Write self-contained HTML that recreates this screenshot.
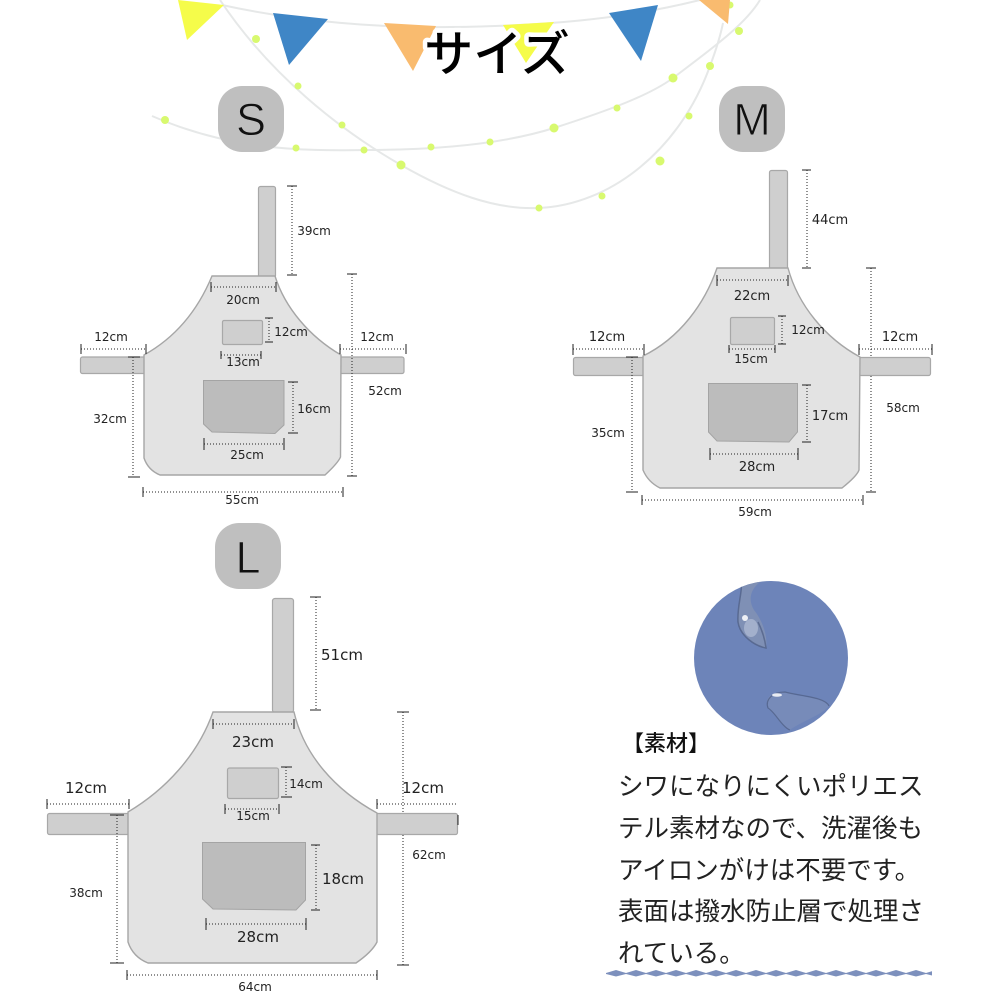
<!DOCTYPE html>
<html lang="ja"><head><meta charset="utf-8"><title>サイズ</title>
<style>
html,body{margin:0;padding:0;background:#fff}
svg{display:block}
.s{fill:none;stroke:#e6e8e8;stroke-width:2}
.d{fill:#d8f96f}
.body{fill:#e3e3e3;stroke:#a6a6a6;stroke-width:1.4}
.st{fill:#cfcfcf;stroke:#a8a8a8;stroke-width:1.2}
.pk{fill:#bcbcbc;stroke:#a4a4a4;stroke-width:1}
.dot{stroke:#222;stroke-width:1;stroke-dasharray:1 2;fill:none;shape-rendering:crispEdges}
.t{stroke:#222;stroke-width:1;fill:none;shape-rendering:crispEdges}
.l{font-family:"DejaVu Sans","Liberation Sans",sans-serif;fill:#222;text-anchor:middle}
.a{font-size:12px}.b{font-size:13px}.c{font-size:15px}
.bd{fill:#bfbfbf}
.bl{font-family:"Liberation Sans",sans-serif;font-size:45px;fill:#111;text-anchor:middle;stroke:#bfbfbf;stroke-width:.9}
.j{font-family:"Liberation Sans","Noto Sans CJK JP",sans-serif;fill:#222;font-size:25.5px;font-weight:400}
</style></head><body>
<svg width="1000" height="1000" viewBox="0 0 1000 1000" xmlns="http://www.w3.org/2000/svg">
<defs>
<pattern id="wv" x="606" y="969" width="20" height="9" patternUnits="userSpaceOnUse"><polygon points="0,4 10,1 20,4 20,5 10,7.500 0,5" fill="#7d90bd"/></pattern>
<clipPath id="cc"><circle cx="771" cy="658" r="77"/></clipPath>
</defs>
<rect width="1000" height="1000" fill="#fff"/>

<!-- garland -->
<path class="s" d="M222 5C300 22 380 28 450 27C540 26 620 20 700 0"/>
<path class="s" d="M220 0C270 75 340 130 401 165C450 193 495 210 539 208C610 205 680 150 710 66C716 50 720 38 723 23"/>
<path class="s" d="M152 116C230 150 300 151 364 150C430 150 500 145 554 128C610 110 650 95 673 78C710 50 745 25 760 0"/>
<g class="d">
<ellipse cx="256" cy="39" rx="4" ry="4"/><circle cx="298" cy="86" r="3.5"/><circle cx="342" cy="125" r="3.5"/><circle cx="401" cy="165" r="4.5"/><circle cx="539" cy="208" r="3.5"/><circle cx="602" cy="196" r="3.5"/><circle cx="660" cy="161" r="4.5"/><circle cx="689" cy="116" r="3.5"/><circle cx="710" cy="66" r="4"/>
<circle cx="165" cy="120" r="4"/><circle cx="296" cy="148" r="3.5"/><circle cx="364" cy="150" r="3.5"/><circle cx="431" cy="147" r="3.5"/><circle cx="490" cy="142" r="3.5"/><circle cx="554" cy="128" r="4.5"/><circle cx="617" cy="108" r="3.5"/><circle cx="673" cy="78" r="4.5"/><circle cx="739" cy="31" r="4"/><circle cx="730" cy="5" r="3.5"/>
</g>
<polygon points="178,0 224,5 187,40" fill="#f5fc4a"/>
<polygon points="273,13 328,19 289,65" fill="#3f86c6"/>
<polygon points="384,23 436,26 413,71" fill="#f9bb6f"/>
<polygon points="503,25 554,22 526,63" fill="#f5fc4a"/>
<polygon points="609,13 658,5 641,61" fill="#3f86c6"/>
<polygon points="699,0 730,0 728,24" fill="#f9bb6f"/>
<text x="497" y="71" text-anchor="middle" font-size="49" font-weight="500" font-family="&quot;Liberation Sans&quot;,&quot;Noto Sans CJK JP&quot;,sans-serif" fill="#000" stroke="#fff" stroke-width="9" paint-order="stroke" stroke-linejoin="round">サイズ</text>

<!-- badges -->
<rect class="bd" x="218" y="86" width="66" height="66" rx="24"/><text class="bl" x="251" y="135">S</text>
<rect class="bd" x="719" y="86" width="66" height="66" rx="24"/><text class="bl" x="752" y="135">M</text>
<rect class="bd" x="215" y="523" width="66" height="66" rx="24"/><text class="bl" x="248" y="573">L</text>

<!-- S -->
<rect class="st" x="258.500" y="186.500" width="17" height="91" rx="2"/>
<rect class="st" x="80.500" y="357" width="66" height="16.500" rx="2"/>
<rect class="st" x="339" y="357" width="65" height="16.500" rx="2"/>
<path class="body" d="M212 276H275C285 308 310 337 341 355L340.500 457Q338 463 325 475H160Q148 470 144 458V355C180 335 200 305 212 276Z"/>
<rect class="st" x="222.500" y="320.500" width="40" height="24" rx="1.500"/>
<path class="pk" d="M203.500 380.500H284V425L275 433.500L212 432L203.500 424Z"/>
<path class="dot" d="M292 186V275M211 287H276M269 318V342M221 355H261M81 349H146M340 349H406M352 274V476M133 357V477M293 382V433M204 444H284M143 492H343"/>
<path class="t" d="M287 186H297M287 275H297M211 282V292M276 282V292M265 318H273M265 342H273M221 351V359M261 351V359M81 344V354M146 344V354M340 344V354M406 344V354M347 274H357M347 476H357M128 357H140M128 477H140M288 382H298M288 433H298M204 438V450M284 438V450M143 487V497M343 487V497"/>
<g class="l a">
<text x="314" y="235">39cm</text><text x="243" y="304">20cm</text><text x="291" y="336">12cm</text><text x="243" y="366">13cm</text><text x="111" y="341">12cm</text><text x="377" y="341">12cm</text><text x="385" y="395">52cm</text><text x="110" y="423">32cm</text><text x="314" y="413">16cm</text><text x="247" y="459">25cm</text><text x="242" y="504">55cm</text>
</g>

<!-- M -->
<rect class="st" x="769.500" y="170.500" width="18" height="99" rx="2"/>
<rect class="st" x="573.500" y="357.500" width="71" height="18" rx="2"/>
<rect class="st" x="859" y="357.500" width="71.500" height="18" rx="2"/>
<path class="body" d="M717 268H788C798 305 825 338 860 357L859 470Q857 476 842 488H660Q648 482 643 470V356C680 338 705 303 717 268Z"/>
<rect class="st" x="730.500" y="317.500" width="44" height="27" rx="1.500"/>
<path class="pk" d="M708.500 383.500H797.500V432L789 442L717 441L708.500 432Z"/>
<path class="dot" d="M807 170V268M717 280H788M782 316V344M729 349H775M573 349H644M859 349H932M871 268V357M871 376V492M632 357V492M807 385V442M710 454H798M642 500H863"/>
<path class="t" d="M802 170H811M802 268H811M717 275V286M788 275V286M778 316H786M778 344H786M729 345V353M775 345V353M573 344V355M644 344V355M859 344V355M932 344V355M866 268H876M866 492H876M626 357H638M626 492H638M802 385H811M802 442H811M710 448V460M798 448V460M642 495V505M863 495V505"/>
<g class="l a"><text x="808" y="334">12cm</text><text x="751" y="363">15cm</text><text x="903" y="412">58cm</text><text x="608" y="437">35cm</text><text x="755" y="516">59cm</text></g>
<g class="l b"><text x="830" y="224">44cm</text><text x="752" y="300">22cm</text><text x="607" y="341">12cm</text><text x="900" y="341">12cm</text><text x="830" y="420">17cm</text><text x="757" y="471">28cm</text></g>

<!-- L -->
<rect class="st" x="272.500" y="598.500" width="21" height="114" rx="2.500"/>
<rect class="st" x="47.500" y="813.500" width="82" height="21" rx="2"/>
<rect class="st" x="376" y="813.500" width="81.500" height="21" rx="2"/>
<path class="body" d="M213 712H294C304 755 335 790 377 813L377 942Q372 952 356 963H148Q133 957 128 942V812C165 790 198 755 213 712Z"/>
<rect class="st" x="227.500" y="768" width="51" height="30.500" rx="2"/>
<path class="pk" d="M202.500 842.500H305.500V900L296 910L213 909L202.500 899Z"/>
<path class="dot" d="M316 597V710M213 724H294M286 767V797M225 809H279M47 804H129M377 804H458M403 712V813M403 835V965M117 815V963M316 845V910M206 924H306M127 975H377"/>
<path class="t" d="M310 597H321M310 710H321M213 719V729M294 719V729M281 767H292M281 797H292M225 804V814M279 804V814M47 799V809M129 799V809M377 799V809M458 815V825M397 712H409M397 965H409M110 815H124M110 963H124M311 845H320M311 910H320M206 918V930M306 918V930M127 970V980M377 970V980"/>
<g class="l a"><text x="306" y="788">14cm</text><text x="253" y="820">15cm</text><text x="429" y="859">62cm</text><text x="86" y="897">38cm</text><text x="255" y="991">64cm</text></g>
<g class="l c"><text x="342" y="660">51cm</text><text x="253" y="747">23cm</text><text x="86" y="793">12cm</text><text x="423" y="793">12cm</text><text x="343" y="884">18cm</text><text x="258" y="942">28cm</text></g>

<!-- material circle -->
<circle cx="771" cy="658" r="77" fill="#6d84b9"/>
<g clip-path="url(#cc)">
<path d="M741 580C743 592 737 605 738 622C740 636 755 646 766 648C768 635 762 620 754 610C748 600 750 590 760 582Z" fill="#7f90b5"/>
<path d="M741 580C743 592 737 605 738 622C740 636 755 646 766 648C765 640 762 630 758 622" fill="none" stroke="#4d5c82" stroke-width="1.500" opacity=".7"/>
<ellipse cx="751" cy="628" rx="7" ry="9" fill="#a3b0cc"/>
<circle cx="745" cy="618" r="3" fill="#eef0f5"/>
<path d="M767 700C770 692 785 690 795 695C808 698 825 697 829 706C822 715 800 722 790 730C782 727 775 712 768 708Z" fill="#778bb9"/>
<path d="M790 730C782 727 775 712 768 708C765 700 772 692 785 692C800 696 825 697 829 706" fill="none" stroke="#4d5c82" stroke-width="1.200" opacity=".7"/>
<ellipse cx="777" cy="695" rx="5" ry="1.800" fill="#e9ecf3"/>
</g>

<!-- material text -->
<text x="622" y="751" font-size="22" font-weight="500" font-family="&quot;Liberation Sans&quot;,&quot;Noto Sans CJK JP&quot;,sans-serif" fill="#111">【素材】</text>
<text class="j" x="618" y="795">シワになりにくいポリエス</text>
<text class="j" x="618" y="837">テル素材なので、洗濯後も</text>
<text class="j" x="618" y="879">アイロンがけは不要です。</text>
<text class="j" x="618" y="920">表面は撥水防止層で処理さ</text>
<text class="j" x="618" y="962">れている。</text>
<rect x="606" y="969" width="326" height="9" fill="url(#wv)"/>
</svg>
</body></html>
